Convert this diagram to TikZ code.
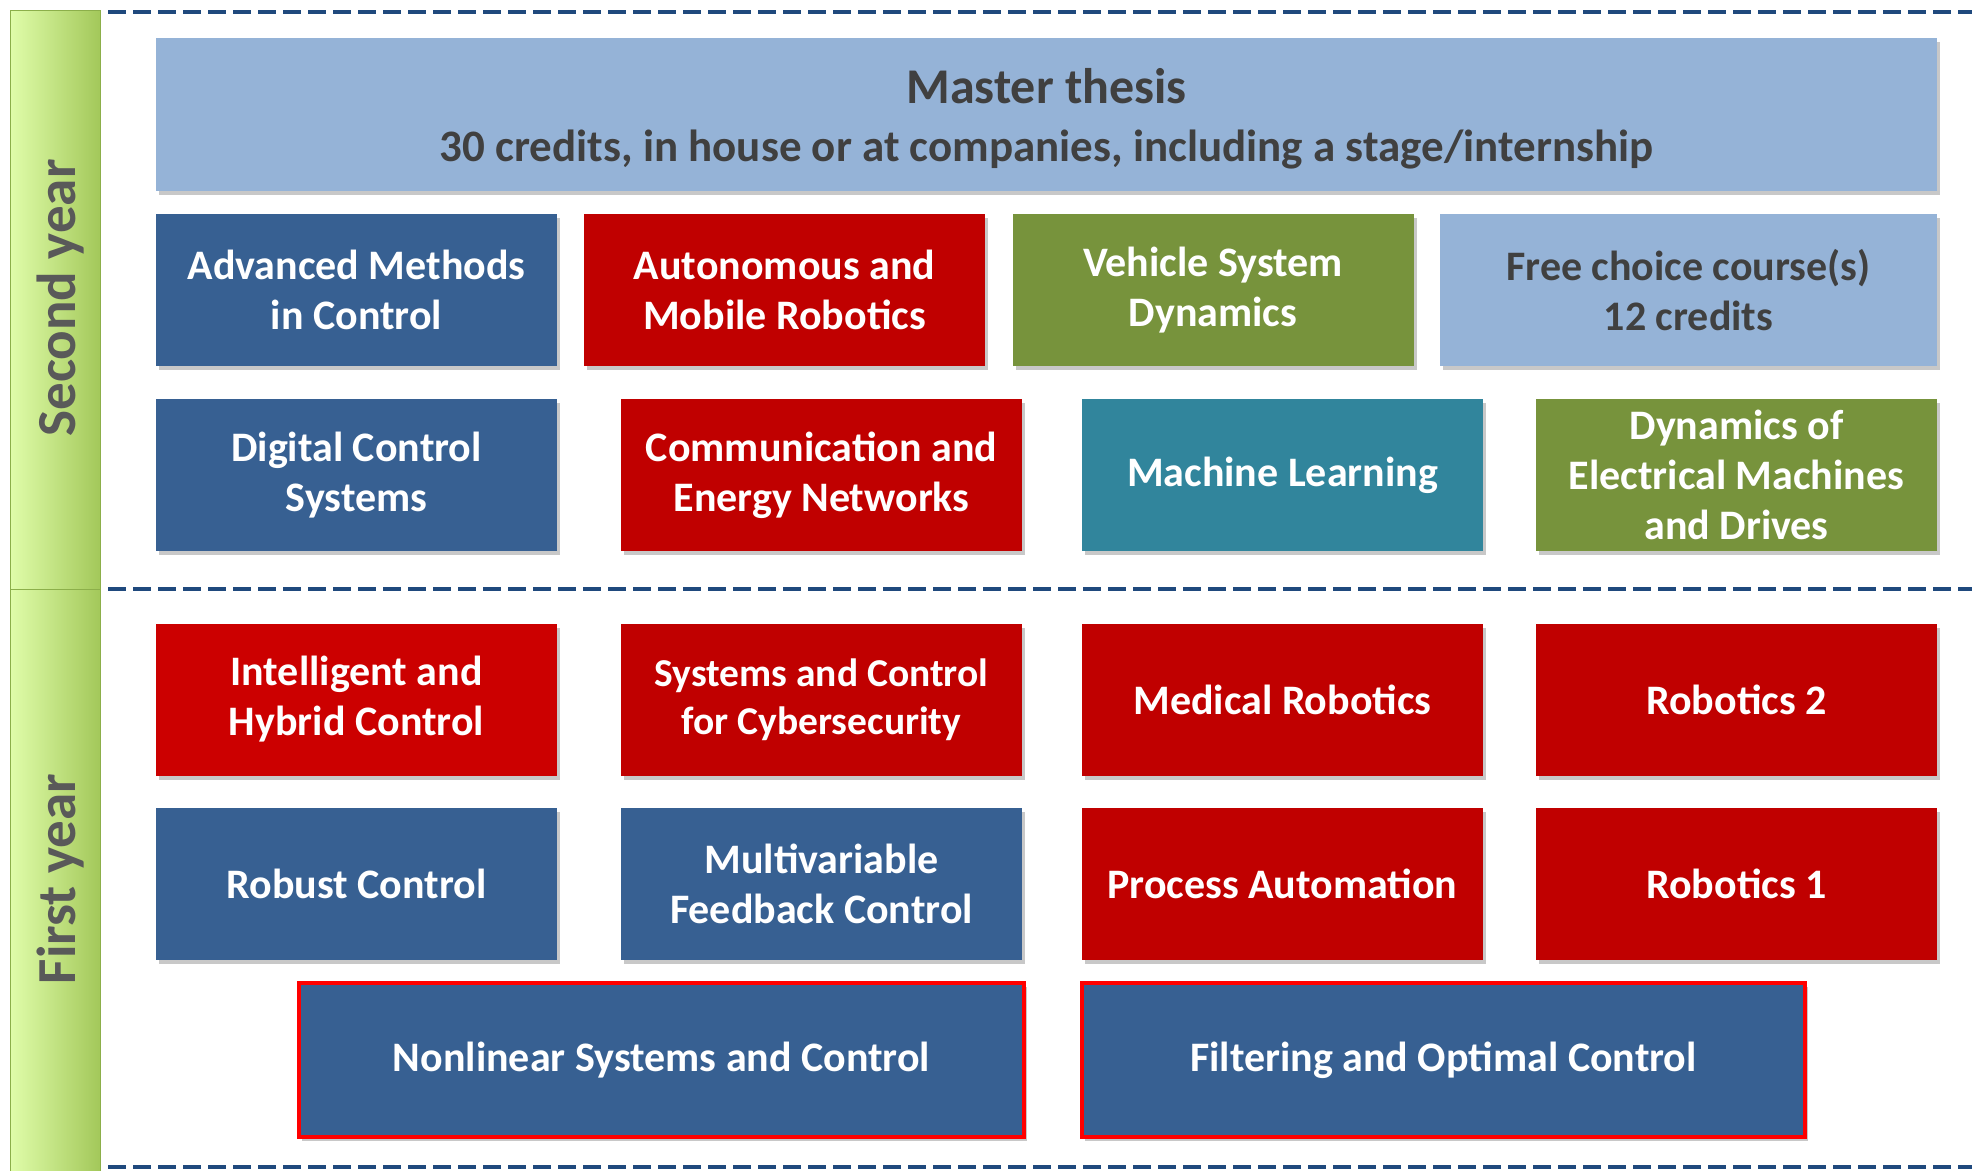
\documentclass[tikz,border=0pt]{standalone}
\usepackage{fontspec}
\setmainfont{Carlito}
\usetikzlibrary{shadows}
\definecolor{dblue}{HTML}{376092}
\definecolor{lblue}{HTML}{95B3D7}
\definecolor{cred}{HTML}{C00000}
\definecolor{bred}{HTML}{CC0000}
\definecolor{cgreen}{HTML}{77933C}
\definecolor{cteal}{HTML}{31859C}
\definecolor{dgray}{HTML}{404040}
\definecolor{bargray}{HTML}{595959}
\definecolor{dashblue}{HTML}{1F497D}
\definecolor{barL}{HTML}{E0FDAA}
\definecolor{barR}{HTML}{A3C85A}
\definecolor{barE}{HTML}{8CAF4A}
\begin{document}
\begin{tikzpicture}[x=1pt,y=-1pt,
  course/.style={rectangle, inner sep=0pt, outer sep=0pt, minimum width=401pt, minimum height=152pt,
    align=center, text=white, font=\fontsize{42}{50}\selectfont\bfseries,
    drop shadow={shadow xshift=3pt, shadow yshift=-4pt, opacity=0.3, fill=black!70}},
  lightbox/.style={course, fill=lblue, text=dgray},
  redframe/.style={draw=red, line width=4pt},
  yearbar/.style={rectangle, inner sep=0pt, outer sep=0pt, minimum width=90pt, left color=barL, right color=barR, draw=barE, line width=1pt},
  yearlabel/.style={rotate=90, text=bargray, font=\fontsize{55}{66}\selectfont\bfseries},
  sep/.style={dashblue, line width=4.5pt, dash pattern=on 18pt off 7pt}
]
\useasboundingbox (0,0) rectangle (1972,1170);
\fill[white] (0,0) rectangle (1972,1170);

% year bars
\node[yearbar, minimum height=579pt] (bar2) at (55,299.5) {};
\node[yearbar, minimum height=583pt] (bar1) at (55,880.5) {};
\node[yearlabel] (l2) at (61,298) {Second year};
\node[yearlabel] (l1) at (61,879) {First year};

% dashed separators
\coordinate (s1a) at (108,12);   \coordinate (s1b) at (1972,12);
\coordinate (s2a) at (108,589);  \coordinate (s2b) at (1972,589);
\coordinate (s3a) at (108,1167); \coordinate (s3b) at (1972,1167);
\draw[sep] (s1a) -- (s1b);
\draw[sep] (s2a) -- (s2b);
\draw[sep] (s3a) -- (s3b);

% master thesis
\node[lightbox, minimum width=1781pt, minimum height=153pt] (thesis) at (1046.5,114.5) {};
\node[align=center, text=dgray, inner sep=0pt, font=\fontsize{45}{58}\selectfont\bfseries] (thesistext) at (1046.5,119)
  {{\fontsize{50}{58}\selectfont Master thesis}\\30 credits, in house or at companies, including a stage/internship};

% second year, row 1
\node[course, fill=dblue] (amc) at (356.5,290) {Advanced Methods\\in Control};
\node[course, fill=cred] (amr) at (784.5,290) {Autonomous and\\Mobile Robotics};
\node[course, fill=cgreen] (vsd) at (1213,290) {Vehicle System\\Dynamics};
\node[lightbox, minimum width=497pt] (free) at (1688.5,290) {Free choice course(s)\\12 credits};

% second year, row 2
\node[course, fill=dblue] (dcs) at (356.5,475) {Digital Control\\Systems};
\node[course, fill=cred] (cen) at (821.5,475) {Communication and\\Energy Networks};
\node[course, fill=cteal] (ml) at (1282.5,475) {Machine Learning};
\node[course, fill=cgreen] (dem) at (1736.5,475) {Dynamics of\\Electrical Machines\\and Drives};

% first year, row 1
\node[course, fill=bred] (ihc) at (356.5,699.5) {Intelligent and\\Hybrid Control};
\node[course, fill=cred, font=\fontsize{39.5}{48}\selectfont\bfseries] (scc) at (821.5,699.5) {Systems and Control\\for Cybersecurity};
\node[course, fill=cred] (mr) at (1282.5,699.5) {Medical Robotics};
\node[course, fill=cred] (r2) at (1736.5,699.5) {Robotics 2};

% first year, row 2
\node[course, fill=dblue] (rc) at (356.5,883.5) {Robust Control};
\node[course, fill=dblue] (mfc) at (821.5,883.5) {Multivariable\\Feedback Control};
\node[course, fill=cred] (pa) at (1282.5,883.5) {Process Automation};
\node[course, fill=cred] (r1) at (1736.5,883.5) {Robotics 1};

% first year, row 3
\node[course, fill=dblue, redframe, minimum width=725pt, minimum height=154pt] (nsc) at (661.5,1060) {Nonlinear Systems and Control};
\node[course, fill=dblue, redframe, minimum width=723pt, minimum height=154pt] (foc) at (1443.5,1060) {Filtering and Optimal Control};
\end{tikzpicture}
\end{document}
